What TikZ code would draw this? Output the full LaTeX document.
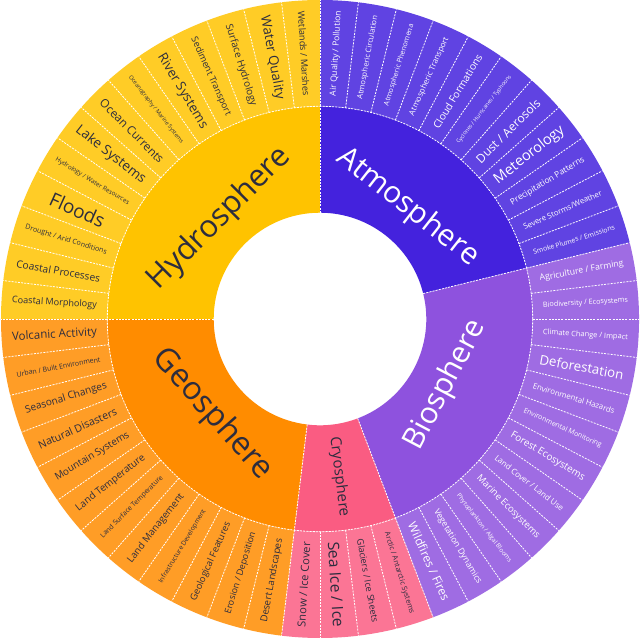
\documentclass[tikz,border=0pt]{standalone}
\usepackage{fontspec}
\setmainfont{Open Sans}
\definecolor{atm}{RGB}{68,34,221}
\definecolor{bio}{RGB}{142,82,222}
\definecolor{cry}{RGB}{250,92,130}
\definecolor{geo}{RGB}{255,140,0}
\definecolor{hyd}{RGB}{255,195,0}
\definecolor{darktext}{RGB}{45,45,62}
\def\dd{6.9230769}
\newsavebox\lbbox
\newdimen\lbw
\newcommand\lbfit[1]{%
  \sbox\lbbox{\fontsize{10}{12}\selectfont #1}%
  \lbw=\wd\lbbox
  \pgfmathsetmacro\lbfs{min(19,850/\lbw)}%
  \fontsize{\lbfs}{\lbfs}\selectfont #1}
\newcommand\olab[3]{%
  \pgfmathsetmacro\lbmid{90-(#1+0.5)*\dd}%
  \pgfmathsetmacro\lbrot{cos(\lbmid)>-0.001 ? \lbmid : \lbmid+180}%
  \node[text=#3, rotate=\lbrot, inner sep=0pt] (L#1) at (\lbmid:266pt) {\lbfit{#2}};%
}
\newcommand\sector[5]{%
  \fill[#5] (#1:#3) arc[start angle=#1,end angle=#2,radius=#3] -- (#2:#4) arc[start angle=#2,end angle=#1,radius=#4] -- cycle;}
\tikzset{divider/.style={white, line width=0.8pt, dash pattern=on 2pt off 1.2pt}}
\begin{document}
\begin{tikzpicture}
\fill[white] (-320pt,-319pt) rectangle (320pt,319pt);
\useasboundingbox (-320pt,-319pt) rectangle (320pt,319pt);
% inner ring
\sector{90}{13.846}{106.3pt}{212.7pt}{atm}
\sector{13.846}{-69.231}{106.3pt}{212.7pt}{bio}
\sector{-69.231}{-96.923}{106.3pt}{212.7pt}{cry}
\sector{-96.923}{-180}{106.3pt}{212.7pt}{geo}
\sector{-180}{-270}{106.3pt}{212.7pt}{hyd}
% outer ring
\sector{90}{13.846}{212.7pt}{319pt}{atm!85!white}
\sector{13.846}{-69.231}{212.7pt}{319pt}{bio!85!white}
\sector{-69.231}{-96.923}{212.7pt}{319pt}{cry!85!white}
\sector{-96.923}{-180}{212.7pt}{319pt}{geo!85!white}
\sector{-180}{-270}{212.7pt}{319pt}{hyd!85!white}
% dividers
\foreach \k in {0,...,51}{
  \pgfmathsetmacro\da{90-\k*\dd}
  \draw[divider] (\da:212.7pt) -- (\da:319pt);
}
\foreach \a in {90,13.846,-69.231,-96.923,-180}{
  \draw[divider] (\a:106.3pt) -- (\a:212.7pt);
}
\draw[divider] (0,0) circle[radius=212.7pt];
% inner labels
\node[text=white, rotate=-38.08, font=\fontsize{30}{30}\selectfont] (atmL) at (51.92:142pt) {Atmosphere};
\node[text=white, rotate=62.3, font=\fontsize{30}{30}\selectfont] (bioL) at (-27.7:142pt) {Biosphere};
\node[text=darktext, rotate=-83.08, font=\fontsize{15}{15}\selectfont] (cryL) at (-83.08:159pt) {Cryosphere};
\node[text=darktext, rotate=-48.46, font=\fontsize{32}{32}\selectfont] (geoL) at (-138.46:144pt) {Geosphere};
\node[text=darktext, rotate=45, font=\fontsize{31}{31}\selectfont] (hydL) at (135:142pt) {Hydrosphere};
% outer labels
\foreach \t [count=\k from 0] in {Air Quality / Pollution,Atmospheric Circulation,Atmospheric Phenomena,Atmospheric Transport,Cloud Formations,Cyclones / Hurricanes / Typhoons,Dust / Aerosols,Meteorology,Precipitation Patterns,Severe Storms/Weather,Smoke Plumes / Emissions}{\olab{\k}{\t}{white}}
\foreach \t [count=\k from 11] in {Agriculture / Farming,Biodiversity / Ecosystems,Climate Change / Impact,Deforestation,Environmental Hazards,Environmental Monitoring,Forest Ecosystems,Land Cover / Land Use,Marine Ecosystems,Phytoplankton / Algal Blooms,Vegetation Dynamics,Wildfires / Fires}{\olab{\k}{\t}{white}}
\foreach \t [count=\k from 23] in {Arctic / Antarctic Systems,Glaciers / Ice Sheets,Sea Ice / Ice,Snow / Ice Cover}{\olab{\k}{\t}{darktext}}
\foreach \t [count=\k from 27] in {Desert Landscapes,Erosion / Deposition,Geological Features,Infrastructure Development,Land Management,Land Surface Temperature,Land Temperature,Mountain Systems,Natural Disasters,Seasonal Changes,Urban / Built Environment,Volcanic Activity}{\olab{\k}{\t}{darktext}}
\foreach \t [count=\k from 39] in {Coastal Morphology,Coastal Processes,Drought / Arid Conditions,Floods,Hydrology / Water Resources,Lake Systems,Ocean Currents,Oceanography / Marine Systems,River Systems,Sediment Transport,Surface Hydrology,Water Quality,Wetlands / Marshes}{\olab{\k}{\t}{darktext}}
\end{tikzpicture}
\end{document}
